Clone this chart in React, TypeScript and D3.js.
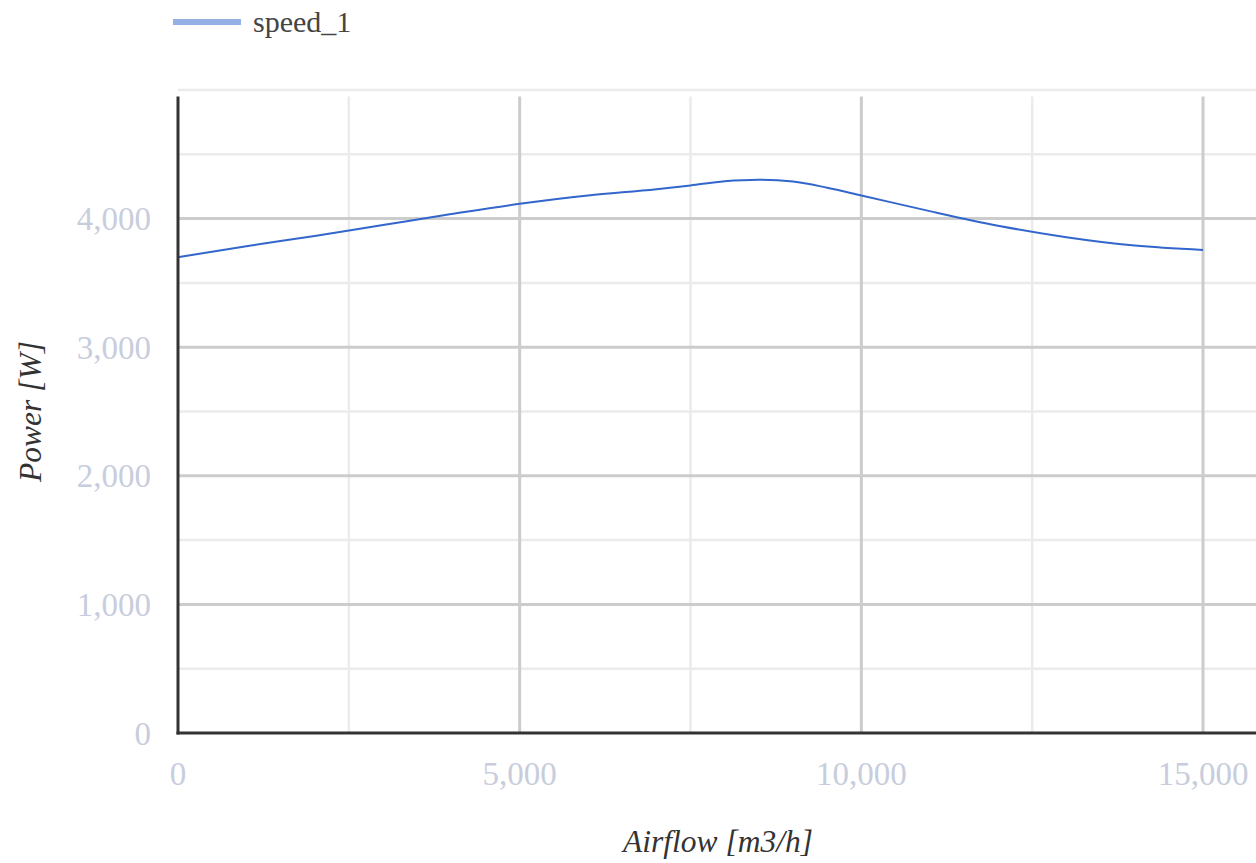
import React from "react";
import * as d3 from "d3";

const airflow = [0, 1000, 2000, 3000, 4000, 5000, 6000, 7000, 7500, 8000, 8500, 9000, 9500, 10000, 11000, 12000, 13000, 14000, 15000];
const power = [3700, 3785, 3865, 3950, 4035, 4115, 4180, 4228, 4258, 4290, 4302, 4288, 4240, 4180, 4058, 3945, 3855, 3790, 3756];
const xMajorTicks = [0, 5000, 10000, 15000];
const xMinorTicks = [2500, 7500, 12500];
const yMajorTicks = [0, 1000, 2000, 3000, 4000];
const yMinorTicks = [500, 1500, 2500, 3500, 4500, 5000];
const seriesName = "speed_1";
const xTitle = "Airflow [m3/h]";
const yTitle = "Power [W]";

export default function App() {
  const W = 1256, H = 863;
  const x = d3.scaleLinear().domain([0, 15800]).range([178, 1257.7]);
  const y = d3.scaleLinear().domain([0, 5000]).range([733, 90]);
  const fmt = d3.format(",");
  const line = d3.line<number>()
    .x((_, i) => x(airflow[i]))
    .y((d) => y(d))
    .curve(d3.curveMonotoneX);
  const font = "'Liberation Serif', 'Times New Roman', serif";
  return (
    <svg width={W} height={H} style={{ position: "absolute", left: 0, top: 0, background: "#fff" }}>
      {yMinorTicks.map((t) => (
        <line key={"ym" + t} x1={x(0)} x2={W} y1={y(t)} y2={y(t)} stroke="#ebebeb" strokeWidth={2.5} />
      ))}
      {xMinorTicks.map((t) => (
        <line key={"xm" + t} x1={x(t)} x2={x(t)} y1={y(4950)} y2={y(0)} stroke="#ebebeb" strokeWidth={2.5} />
      ))}
      {yMajorTicks.filter((t) => t > 0).map((t) => (
        <line key={"yM" + t} x1={x(0)} x2={W} y1={y(t)} y2={y(t)} stroke="#cccccc" strokeWidth={3} />
      ))}
      {xMajorTicks.filter((t) => t > 0).map((t) => (
        <line key={"xM" + t} x1={x(t)} x2={x(t)} y1={y(4950)} y2={y(0)} stroke="#cccccc" strokeWidth={3} />
      ))}
      <path d={line(power) || ""} fill="none" stroke="#3366cc" strokeWidth={2} />
      <line x1={x(0)} x2={x(0)} y1={y(4950)} y2={y(0) + 1.5} stroke="#333" strokeWidth={3} />
      <line x1={x(0) - 1.5} x2={W} y1={y(0)} y2={y(0)} stroke="#333" strokeWidth={3} />
      {yMajorTicks.map((t) => (
        <text key={"yl" + t} x={151} y={y(t)} dy="0.35em" textAnchor="end" fontFamily={font} fontSize={33} fill="#c8cddd">
          {fmt(t)}
        </text>
      ))}
      {xMajorTicks.map((t) => (
        <text key={"xl" + t} x={x(t)} y={785} textAnchor="middle" fontFamily={font} fontSize={33} fill="#c8cddd">
          {fmt(t)}
        </text>
      ))}
      <text x={718} y={852} textAnchor="middle" fontFamily={font} fontStyle="italic" fontSize={31.5} fill="#333">
        {xTitle}
      </text>
      <text transform={`translate(41,${(y(0) + y(5000)) / 2}) rotate(-90)`} textAnchor="middle" fontFamily={font} fontStyle="italic" fontSize={31.5} fill="#333">
        {yTitle}
      </text>
      <line x1={173} x2={241} y1={22} y2={22} stroke="#94b0e4" strokeWidth={6} />
      <text x={253} y={32} fontFamily={font} fontSize={30} fill="#444">
        {seriesName}
      </text>
    </svg>
  );
}
